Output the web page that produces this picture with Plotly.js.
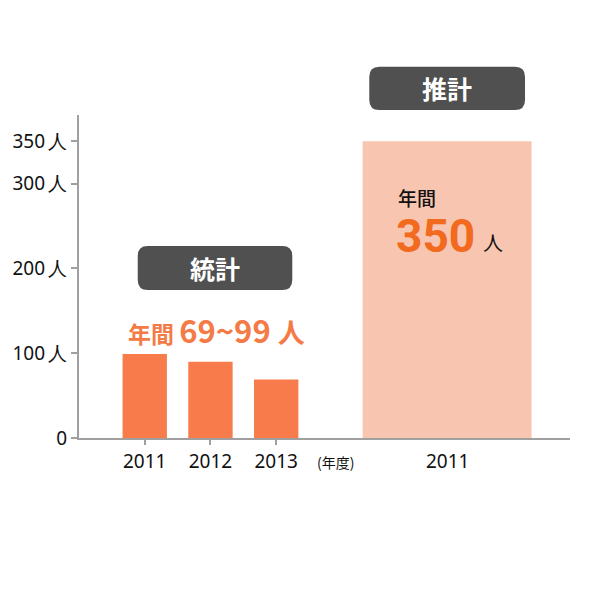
<!DOCTYPE html>
<html>
<head>
<meta charset="utf-8">
<script src="https://cdn.plot.ly/plotly-3.0.1.min.js"></script>
<style>
  html, body { margin: 0; padding: 0; background: #fff; }
  #graphDiv { width: 589px; height: 589px; }
</style>
</head>
<body>
<div id="graphDiv"></div>
<script>
// Statistics (left group) and estimate (right bar)
const statYears = ['2011', '2012', '2013'];
const statValues = [99, 90, 69];
const estYears = ['2011'];
const estValues = [350];

const yTickVals = [0, 100, 200, 300, 350];
const yTickText = ['0', '100\u2009人', '200\u2009人', '300\u2009人', '350\u2009人'];

const statLabel = '統計';
const estLabel = '推計';
const unitLabel = '(年度)';

let tickFont = 'Noto Sans, Open Sans, sans-serif';
let jpFont = 'Noto Sans CJK JP, Noto Sans, sans-serif';

// positions of the bars on the numeric x axis
let statPos = statYears.map((d, i) => i);
let estPos = [4.6];

// rounded box in paper coords, corners drawn with Q curves
function roundBox(x0, y0, x1, y1) {
    let rx = 10 / 491;
    let ry = 10 / 323;
    return 'M' + (x0 + rx) + ',' + y0 +
        ' L' + (x1 - rx) + ',' + y0 +
        ' Q' + x1 + ',' + y0 + ' ' + x1 + ',' + (y0 + ry) +
        ' L' + x1 + ',' + (y1 - ry) +
        ' Q' + x1 + ',' + y1 + ' ' + (x1 - rx) + ',' + y1 +
        ' L' + (x0 + rx) + ',' + y1 +
        ' Q' + x0 + ',' + y1 + ' ' + x0 + ',' + (y1 - ry) +
        ' L' + x0 + ',' + (y0 + ry) +
        ' Q' + x0 + ',' + y0 + ' ' + (x0 + rx) + ',' + y0 + ' Z';
}

// text placed in paper coords, anchors given explicitly
function label(x, y, text, font, xanchor) {
    return { xref: 'paper', yref: 'paper', x: x, y: y, text: text, showarrow: false,
             xanchor: xanchor || 'center', yanchor: 'middle', font: font };
}

function init() {
    let graphDiv = document.getElementById('graphDiv');

    let data = [{
        type: 'bar',
        x: statPos,
        y: statValues,
        width: 0.675,
        marker: { color: '#f87c4b', line: { width: 0 } },
        hoverinfo: 'skip'
    }, {
        type: 'bar',
        x: estPos,
        y: estValues,
        width: 2.57,
        marker: { color: '#f8c5b0', line: { width: 0 } },
        hoverinfo: 'skip'
    }];

    let axisTickFont = { family: tickFont, size: 19, color: '#111' };

    let layout = {
        width: 589,
        height: 589,
        margin: { l: 79, r: 19, t: 115, b: 151 },
        paper_bgcolor: '#fff',
        plot_bgcolor: '#fff',
        showlegend: false,
        barmode: 'overlay',
        xaxis: {
            range: [-1, 6.47],
            tickvals: statPos,
            ticktext: statYears,
            ticks: 'outside',
            ticklen: 5,
            tickwidth: 2,
            tickcolor: '#a0a0a0',
            showline: true,
            linecolor: '#a0a0a0',
            linewidth: 2,
            showgrid: false,
            zeroline: false,
            tickfont: axisTickFont,
            fixedrange: true
        },
        yaxis: {
            range: [0, 381],
            tickvals: yTickVals,
            ticktext: yTickText,
            ticks: 'outside',
            ticklen: 6,
            tickwidth: 2,
            tickcolor: '#a0a0a0',
            showline: true,
            linecolor: '#a0a0a0',
            linewidth: 2,
            showgrid: false,
            zeroline: false,
            tickfont: axisTickFont,
            fixedrange: true
        },
        shapes: [
            { type: 'path', xref: 'paper', yref: 'paper', path: roundBox(0.1196, 0.4582, 0.4344, 0.5944),
              fillcolor: '#505050', line: { width: 0 } },
            { type: 'path', xref: 'paper', yref: 'paper', path: roundBox(0.5912, 1.0155, 0.9084, 1.1495),
              fillcolor: '#505050', line: { width: 0 } }
        ],
        annotations: [
            label(0.277, 0.526, '<b>' + statLabel + '</b>', { family: jpFont, size: 25, color: '#fff' }),
            label(0.7498, 1.0825, '<b>' + estLabel + '</b>', { family: jpFont, size: 25, color: '#fff' }),
            label(0.281, 0.3344,
                  '<b><span style="font-size:23px">年間 </span>' + Math.min(...statValues) + '~' + Math.max(...statValues) +
                  ' <span style="font-size:27px">人</span></b>',
                  { family: jpFont, size: 31, color: '#f47b46' }),
            label(0.6456, 0.745, '年間', { family: jpFont, size: 19, color: '#111', weight: 500 }, 'left'),
            label(0.6415, 0.626, '<b>' + estValues[0] + '</b>', { family: 'Roboto, sans-serif', size: 46, color: '#f26a1e' }, 'left'),
            label(0.8195, 0.604, '人', { family: jpFont, size: 20, color: '#111' }, 'left'),
            label(0.7495, -0.0712, estYears[0], axisTickFont),
            label(0.5234, -0.0735, unitLabel, { family: jpFont, size: 14, color: '#111' })
        ]
    };

    Plotly.newPlot(graphDiv, data, layout, { staticPlot: true, displayModeBar: false });
}

init();
</script>
</body>
</html>
